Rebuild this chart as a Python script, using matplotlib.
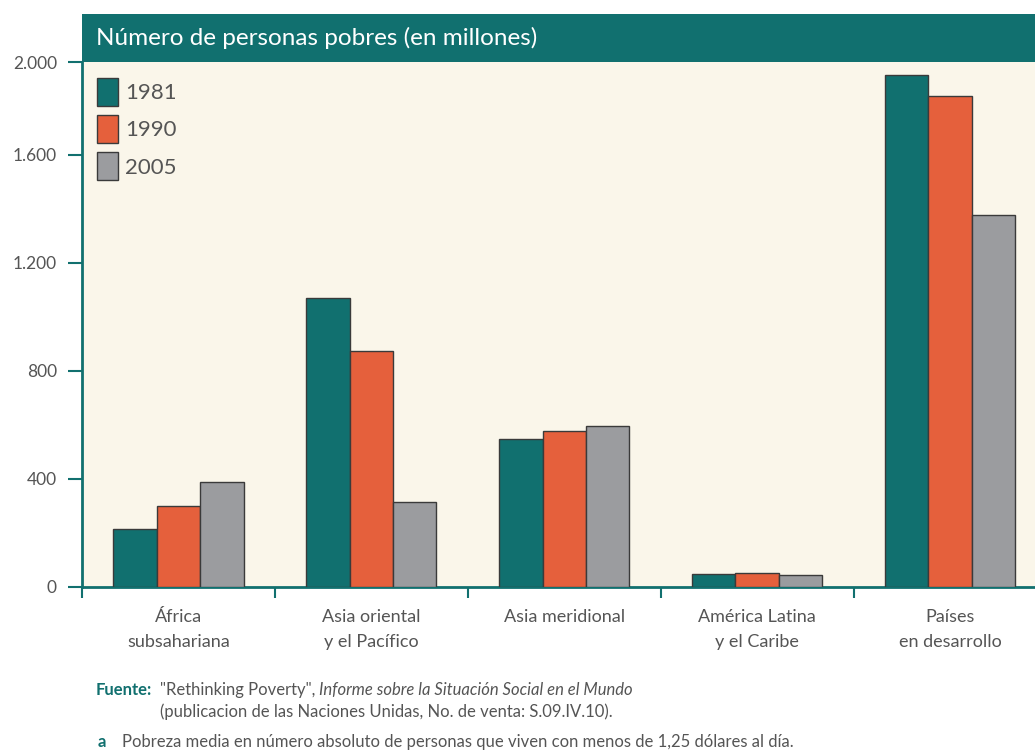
import matplotlib.pyplot as plt
import numpy as np
from matplotlib.patches import Rectangle

# datos (millones de personas)
regiones = ['África\nsubsahariana', 'Asia oriental\ny el Pacífico', 'Asia meridional',
            'América Latina\ny el Caribe', 'Países\nen desarrollo']
anios = ['1981', '1990', '2005']
v1981 = [214, 1071, 548, 47, 1896]
v1990 = [299, 873, 579, 50, 1817]
v2005 = [388, 316, 596, 45, 1377]
yticks = [0, 400, 800, 1200, 1600]

teal = '#11706F'
naranja = '#E5603C'
gris = '#9B9C9F'
texto = '#555555'

plt.rcParams['font.family'] = ['Lato', 'DejaVu Sans']

fig = plt.figure(figsize=(10.35, 7.51), dpi=100)
ax = fig.add_axes([0.0792, 0.2184, 0.9208, 0.699])
ax.set_facecolor('#FAF6EA')

x = np.arange(len(regiones))
w = 0.225
for i, (vals, col) in enumerate(zip([v1981, v1990, v2005], [teal, naranja, gris])):
    ax.bar(x + (i - 1) * w, vals, w, color=col, edgecolor='#3a3a3a', linewidth=1,
           label=anios[i], zorder=3)

ytop = 1944
ax.set_ylim(0, ytop)
ax.set_xlim(-0.5, 4.44)

# eje y: la marca superior coincide con el borde del gráfico
ax.set_yticks(yticks + [ytop])
ax.set_yticklabels(['0', '400', '800', '1.200', '1.600', '2.000'])
ax.tick_params(axis='y', length=10, width=1.5, color=teal, labelcolor=texto,
               labelsize=12.5, pad=8)

# eje x: marcas entre grupos, etiquetas en el centro
ax.set_xticks(np.arange(-0.5, 4.0, 1.0))
ax.set_xticklabels([])
ax.set_xticks(x, minor=True)
ax.set_xticklabels(regiones, minor=True, fontsize=13, color=texto, linespacing=1.65)
ax.tick_params(axis='x', which='major', direction='out', length=8, width=1.5, color=teal)
ax.tick_params(axis='x', which='minor', length=0, pad=16)

for s in ['top', 'right']:
    ax.spines[s].set_visible(False)
for s in ['left', 'bottom']:
    ax.spines[s].set_color(teal)
    ax.spines[s].set_linewidth(2)

leg = ax.legend(loc='upper left', bbox_to_anchor=(-0.008, 1.012), frameon=False,
                fontsize=16, handlelength=0.95, handleheight=1.55, labelspacing=0.42,
                handletextpad=0.35, labelcolor=texto, borderaxespad=0.6)

# banda del título
fig.patches.append(Rectangle((0.0792, 0.9174), 0.9208, 0.064, transform=fig.transFigure,
                             facecolor=teal, edgecolor='none'))
fig.text(0.093, 0.949, 'Número de personas pobres (en millones)', color='white',
         fontsize=17.5, va='center', ha='left')

# notas
fs = 12
t1 = fig.text(0.092, 0.081, 'Fuente:', color=teal, fontsize=fs, fontweight='bold', va='center')
t2 = ax.annotate('"Rethinking Poverty", ', xy=(1, 0.5), xycoords=t1, xytext=(6, 0),
                 textcoords='offset points', color=texto, fontsize=fs, va='center')
ax.annotate('Informe sobre la Situación Social en el Mundo', xy=(1, 0.5), xycoords=t2,
            color=texto, fontsize=fs, style='italic', va='center')
fig.text(0.155, 0.052, '(publicacion de las Naciones Unidas, No. de venta: S.09.IV.10).',
         color=texto, fontsize=fs, va='center')
fig.text(0.094, 0.012, 'a', color=teal, fontsize=fs, fontweight='bold', va='center')
fig.text(0.118, 0.012, 'Pobreza media en número absoluto de personas que viven con menos de 1,25 dólares al día.',
         color=texto, fontsize=fs, va='center')

fig.savefig('out.png', dpi=100, facecolor='white')
